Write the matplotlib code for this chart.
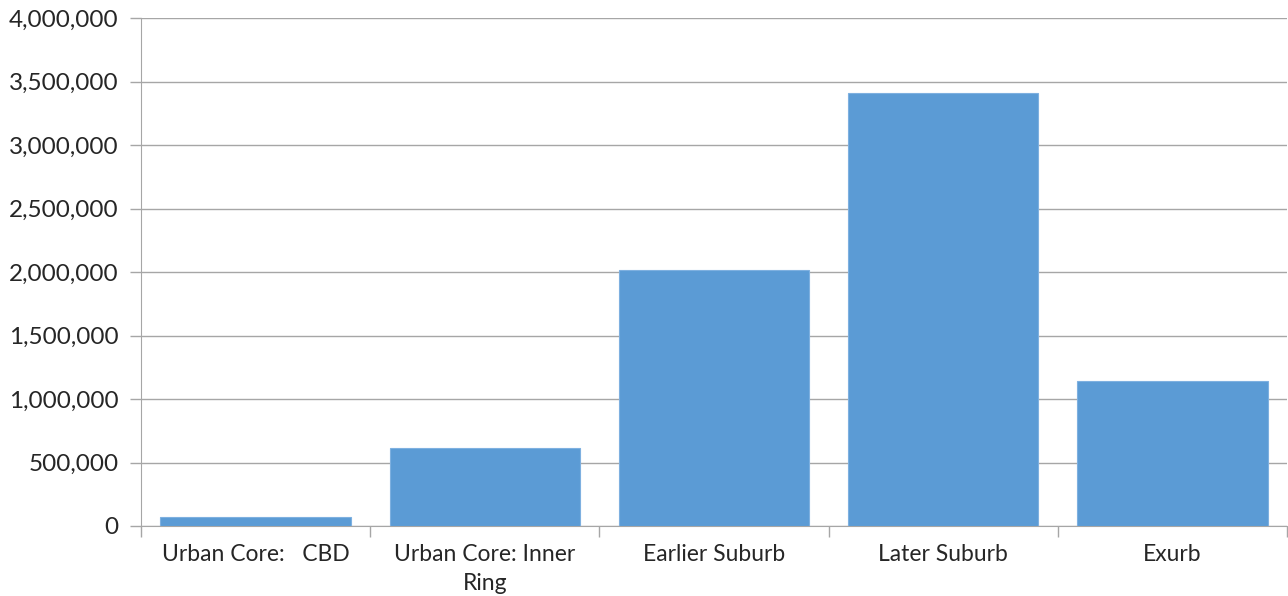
import matplotlib
matplotlib.use("Agg")
import matplotlib.pyplot as plt
from matplotlib.ticker import FuncFormatter, MultipleLocator, FixedLocator

categories = ["Urban Core:   CBD", "Urban Core: Inner\nRing", "Earlier Suburb", "Later Suburb", "Exurb"]
values = [74000, 614000, 2016000, 3409000, 1142000]

plt.rcParams['font.family'] = ['Lato', 'DejaVu Sans']

fig = plt.figure(figsize=(12.88, 5.96), dpi=100)
ax = fig.add_axes([141/1288, 1-526/596, (1287-141)/1288, (526-18)/596])

x = list(range(len(categories)))
ax.bar(x, values, width=0.83, color="#5B9BD5", edgecolor="#7EB0E0", linewidth=0.8, zorder=3)

ax.set_xlim(-0.5, len(categories)-0.5)
ax.set_ylim(0, 4000000)
ax.yaxis.set_major_locator(MultipleLocator(500000))
ax.yaxis.set_major_formatter(FuncFormatter(lambda v, p: f"{int(v):,}"))
ax.grid(axis='y', color="#A6A6A6", linewidth=1.0, zorder=0)
ax.set_axisbelow(True)

ax.set_xticks(x)
ax.set_xticklabels(categories, fontsize=16.5, color="#262626", linespacing=1.45)
ax.xaxis.set_minor_locator(FixedLocator([i-0.5 for i in range(len(categories)+1)]))
ax.tick_params(axis='x', which='major', length=0, pad=13)
ax.tick_params(axis='x', which='minor', length=8, color="#A6A6A6", width=1)
ax.tick_params(axis='y', length=8, color="#A6A6A6", width=1, labelsize=17.5, labelcolor="#262626", pad=8)

for s in ['top', 'right']:
    ax.spines[s].set_visible(False)
ax.spines['left'].set_color("#A6A6A6")
ax.spines['bottom'].set_color("#A6A6A6")

fig.savefig("out.png", dpi=100)
